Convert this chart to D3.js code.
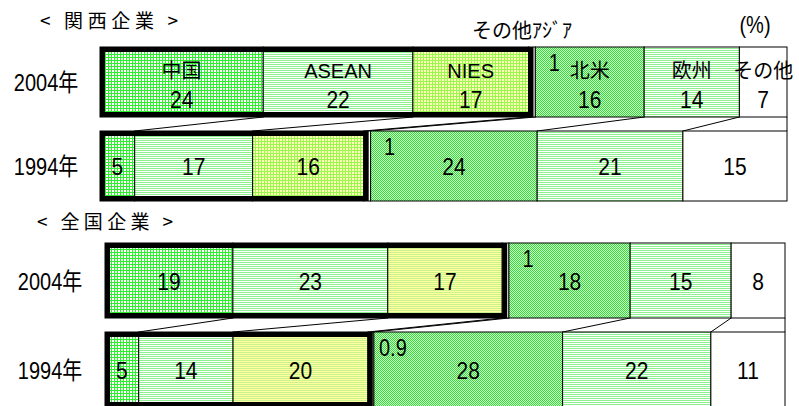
<!DOCTYPE html>
<html><head><meta charset="utf-8">
<script src="https://cdn.jsdelivr.net/npm/d3@7"></script>
<style>
body{margin:0;background:#fff}
text{font-family:"Liberation Sans",Arial,"Noto Sans CJK JP",sans-serif;fill:#000}
</style>
</head><body><script>
// data
const categories = ["中国", "ASEAN", "NIES", "その他アジア", "北米", "欧州", "その他"];
const years = ["2004年", "1994年"];
const kansai2004 = [24, 22, 17, 1, 16, 14, 7];
const kansai1994 = [5, 17, 16, 1, 24, 21, 15];
const zenkoku2004 = [19, 23, 17, 1, 18, 15, 8];
const zenkoku1994 = [5, 14, 20, 0.9, 28, 22, 11];
const panelTitles = ["< 関西企業 >", "< 全国企業 >"];
const otherAsiaLabel = "その他ｱｼﾞｱ";
const unitLabel = "(%)";

const W = 799, H = 406;
const svg = d3.select("body").append("svg").attr("width", W).attr("height", H);
const defs = svg.append("defs");

// fill patterns like the excel ones
function pattern(id, w, h, bg, rects) {
  const p = defs.append("pattern").attr("id", id)
    .attr("patternUnits", "userSpaceOnUse").attr("width", w).attr("height", h);
  p.append("rect").attr("width", w).attr("height", h).attr("fill", bg);
  rects.forEach(r => p.append("rect").attr("x", r[0]).attr("y", r[1])
    .attr("width", r[2]).attr("height", r[3]).attr("fill", r[4]));
}
pattern("grid", 3, 3, "#fff", [[0, 0, 3, 1, "#2cf02c"], [0, 0, 1, 3, "#2cf02c"]]);
pattern("gridY", 3, 3, "#ffffb8", [[0, 0, 3, 1, "#98f850"], [0, 0, 1, 3, "#98f850"]]);
pattern("stripe", 2, 2, "#fff", [[0, 0, 2, 1, "#8ff08f"]]);
pattern("stripeY", 2, 2, "#ffffa0", [[0, 0, 2, 1, "#ccf290"]]);
pattern("check", 2, 2, "#d4ffd4", [[0, 0, 1, 1, "#30e030"], [1, 1, 1, 1, "#30e030"]]);

const panels = [
  {title: panelTitles[0], titleX: [40, 178], titleY: 28, rows: [kansai2004, kansai1994],
   x: [100, 787], y: [47, 201], pad: 14 / 84, yearX: 46, nies: "url(#gridY)", names: true},
  {title: panelTitles[1], titleX: [37, 173], titleY: 229, rows: [zenkoku2004, zenkoku1994],
   x: [105, 785], y: [243, 407], pad: 14 / 89, yearX: 50, nies: "url(#stripeY)", names: false}
];

// digits in the original are tall and narrow
function num(g, x, y, s, size) {
  return g.append("text").attr("transform", `translate(${x},${y}) scale(1,1.17)`)
    .attr("text-anchor", "middle").style("font-size", size + "px").text(s);
}

panels.forEach(p => {
  const fills = ["url(#grid)", "url(#stripe)", p.nies, "#fff", "url(#check)", "url(#stripe)", "#fff"];
  const y = d3.scaleBand().domain(years).range(p.y).paddingInner(p.pad);
  const bw = y.bandwidth();
  const g = svg.append("g");

  g.append("text").attr("x", p.titleX[0]).attr("y", p.titleY)
    .attr("textLength", p.titleX[1] - p.titleX[0]).attr("lengthAdjust", "spacing")
    .style("font-family", "'Noto Sans CJK JP'").style("font-size", "19px").text(p.title);

  const xs = p.rows.map(r => d3.scaleLinear().domain([0, d3.sum(r)]).range(p.x));
  const cums = p.rows.map(r => [0, ...d3.cumsum(r)]);

  // series lines between the two bars
  const top94 = y(years[1]), bot04 = y(years[0]) + bw;
  for (let i = 1; i <= categories.length; i++) {
    g.append("line")
      .attr("x1", xs[0](cums[0][i])).attr("y1", bot04)
      .attr("x2", xs[1](cums[1][i])).attr("y2", top94)
      .attr("stroke", "#000").attr("stroke-width", 1);
  }

  p.rows.forEach((row, ri) => {
    const x = xs[ri], cum = cums[ri], y0 = y(years[ri]), cy = y0 + bw / 2;
    g.selectAll(null).data(row).enter().append("rect")
      .attr("x", (d, i) => x(cum[i])).attr("y", y0)
      .attr("width", (d, i) => x(cum[i + 1]) - x(cum[i])).attr("height", bw)
      .attr("fill", (d, i) => fills[i]).attr("stroke", "#000").attr("stroke-width", 1);

    // thick frame round china + asean + nies
    g.append("rect").attr("x", x(0) + 2.5).attr("y", y0 + 2.5)
      .attr("width", x(cum[3]) - x(0)).attr("height", bw - 5)
      .attr("fill", "none").attr("stroke", "#000").attr("stroke-width", 5);

    num(g, p.yearX, cy + 9, years[ri], 20);

    const withNames = p.names && ri === 0;
    row.forEach((v, i) => {
      if (i === 3) {
        num(g, x(cum[4]) + 19, y0 + 24, v, 20);
        return;
      }
      const mx = (x(cum[i]) + x(cum[i + 1])) / 2;
      if (withNames) {
        g.append("text").attr("x", mx).attr("y", cy - 4).attr("text-anchor", "middle")
          .style("font-size", "20px").text(categories[i]);
      }
      num(g, mx, withNames ? cy + 26 : cy + 9, v, 21);
    });

    if (withNames) {
      g.append("text").attr("x", (x(cum[3]) + x(cum[4])) / 2 - 10).attr("y", 38)
        .attr("text-anchor", "middle").style("font-size", "20px").text(otherAsiaLabel);
      num(g, 755, 33, unitLabel, 20);
    }
  });
});
</script></body></html>
